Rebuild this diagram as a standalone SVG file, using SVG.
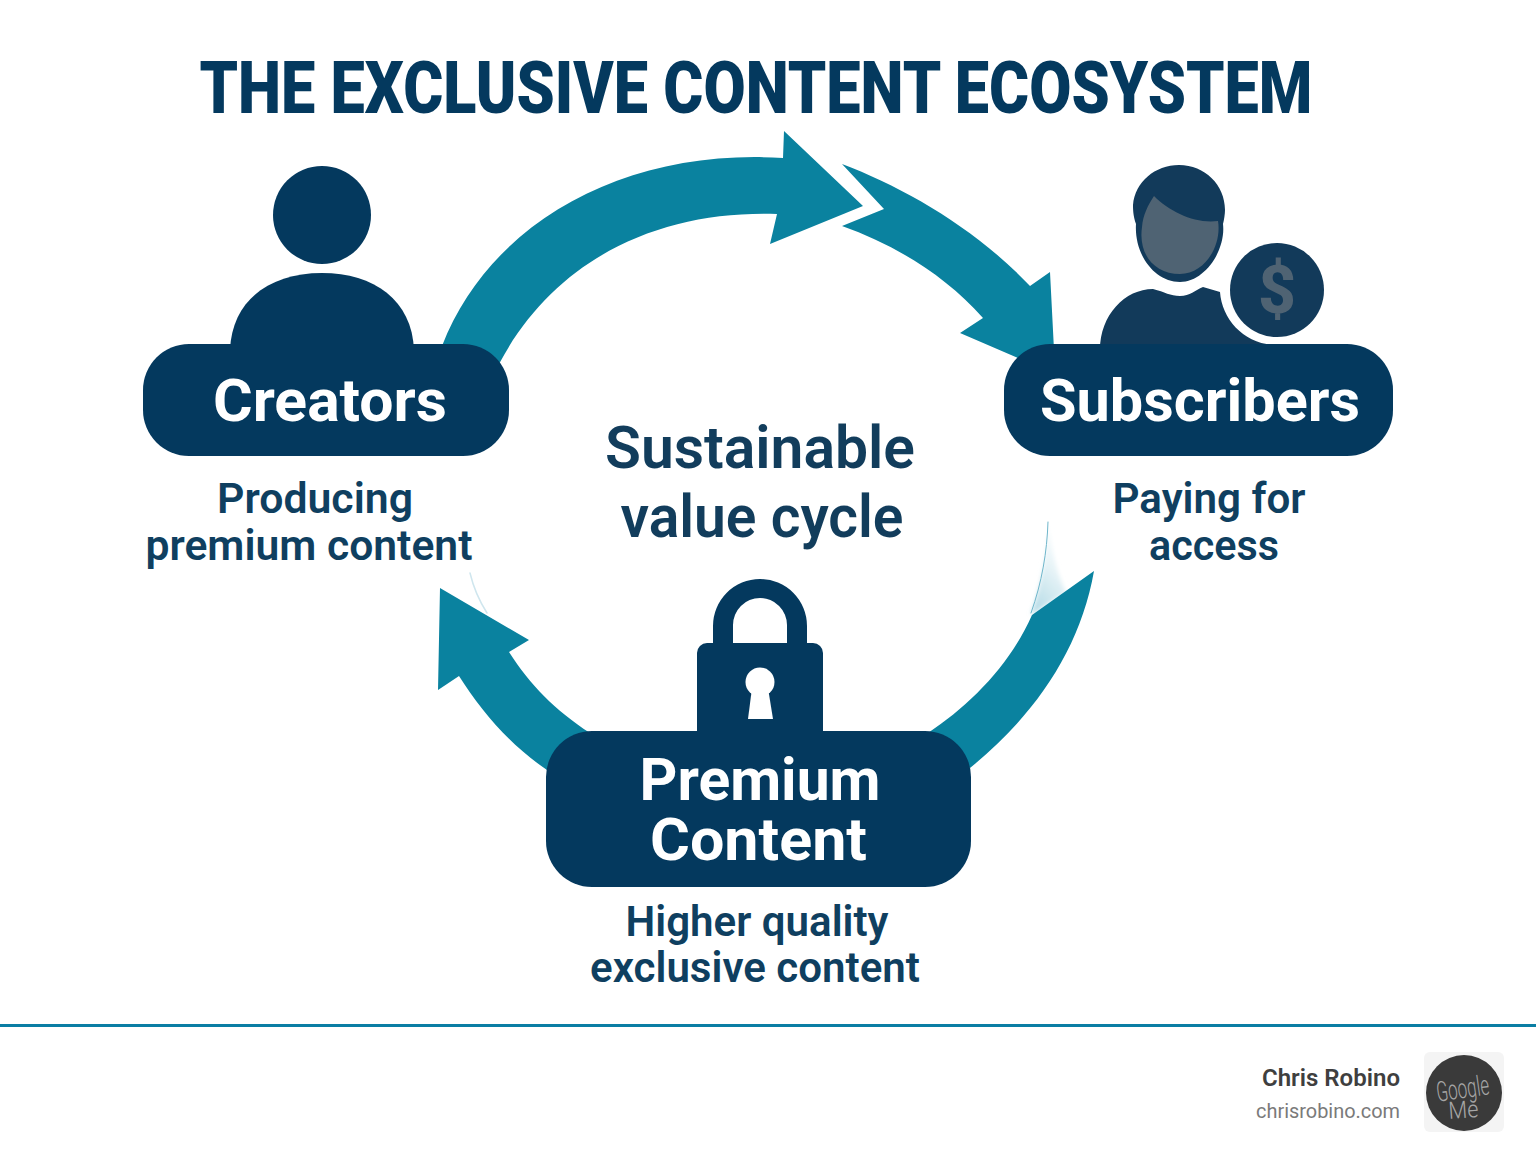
<svg xmlns="http://www.w3.org/2000/svg" width="1536" height="1154" viewBox="0 0 1536 1154">
<defs>
<linearGradient id="fade" x1="0.2" y1="1" x2="0.6" y2="0">
<stop offset="0" stop-color="#b5dbe6"/>
<stop offset="0.55" stop-color="#e6f3f7"/>
<stop offset="1" stop-color="#ffffff"/>
</linearGradient>
<filter id="soft" x="-30%" y="-30%" width="160%" height="160%"><feGaussianBlur stdDeviation="2"/></filter>
</defs>
<style>
.navy{fill:#04395e}
.teal{fill:#0a829f}
.ink{fill:#123a5a}
.sliver{fill:none;stroke-linecap:round}
text{font-family:Roboto,"Liberation Sans",sans-serif;text-anchor:middle}
.h{font-weight:700;fill:#fff;font-size:60px}
.s{font-weight:600;fill:#0f3f60;font-size:43px}
.c{font-weight:600;fill:#123d5c;font-size:60px}
</style>
<rect width="1536" height="1154" fill="#fff"/>
<text id="title" x="756" y="113" font-size="73" font-weight="900" fill="#04395e" textLength="1113" lengthAdjust="spacingAndGlyphs">THE EXCLUSIVE CONTENT ECOSYSTEM</text>
<g id="connectors">
<path class="teal" d="M442 346C490 222 625 148 783 158L784 131L863 206L770 244L777 214C660 210 555 258 499 364Z"/>
<path class="teal" d="M842 164C905 188 975 228 1030 286L1050 272L1054 350L1018 358L960 333L983 318C945 275 895 245 842 226L884 209Z"/>
<path d="M1048 520C1047 552 1042 582 1031 615L1066 592C1056 570 1052 552 1048 520Z" fill="url(#fade)" filter="url(#soft)"/>
<path class="sliver" d="M1048 522C1047 552 1042 582 1031 613" stroke="#6fb6cb" stroke-width="1"/>
<path class="teal" d="M1094 571C1080 650 1035 715 970 768L928 733C970 705 1010 665 1032 615Z"/>
<path class="sliver" d="M470 573C474 590 480 602 487 613" stroke="#cfe6ee" stroke-width="1.5"/>
<path class="teal" d="M590 733L547 770C510 745 482 712 459 676L438 690L440 588L529 640L509 652C530 685 555 710 590 733Z"/>
</g>
<g id="creators">
<circle class="navy" cx="322" cy="215" r="49"/>
<path class="navy" d="M230 350C232 300 270 273 322 273C374 273 412 300 414 350Z"/>
<rect class="navy" x="143" y="344" width="366" height="112" rx="46"/>
<text class="h" x="330" y="421" textLength="234" lengthAdjust="spacingAndGlyphs">Creators</text>
<text class="s" x="315" y="513" textLength="196" lengthAdjust="spacingAndGlyphs">Producing</text>
<text class="s" x="309" y="560" textLength="327" lengthAdjust="spacingAndGlyphs">premium content</text>
</g>
<g id="subscribers">
<path class="ink" d="M1100 350C1100 315 1125 289 1153 289C1165 292 1170 296 1180 296C1190 296 1195 290 1203 287L1220 292C1222 320 1245 345 1277 345L1277 350Z"/>
<path class="ink" d="M1179 165C1205 165 1225 185 1225 210C1225 214 1224 220 1223 224C1226 250 1205 282 1180 282C1155 282 1134 255 1136 224C1133 216 1133 208 1133 205C1135 182 1155 165 1179 165Z"/>
<path d="M1154 196C1170 212 1195 224 1218 221C1222 245 1205 274 1180 274C1155 274 1138 255 1142 227C1143 215 1148 205 1154 196Z" fill="#4f6373"/>
<circle class="ink" cx="1277" cy="290" r="47"/>
<text x="1277" y="313" font-size="66" font-weight="800" fill="#4f6373">$</text>
<rect class="navy" x="1004" y="344" width="389" height="112" rx="46"/>
<text class="h" x="1200" y="421" textLength="320" lengthAdjust="spacingAndGlyphs">Subscribers</text>
<text class="s" x="1209" y="513" textLength="193" lengthAdjust="spacingAndGlyphs">Paying for</text>
<text class="s" x="1214" y="560" textLength="130" lengthAdjust="spacingAndGlyphs">access</text>
</g>
<g id="premium">
<path class="navy" d="M713 645V626A47 47 0 0 1 807 626V645H787V625A27 27 0 0 0 733 625V645Z"/>
<rect class="navy" x="697" y="643" width="126" height="100" rx="10"/>
<circle cx="760" cy="682" r="14.5" fill="#fff"/>
<path d="M752 688H768L773 719H748Z" fill="#fff"/>
<rect class="navy" x="546" y="731" width="425" height="156" rx="46"/>
<text class="h"><tspan x="760" y="800" textLength="241" lengthAdjust="spacingAndGlyphs">Premium</tspan><tspan x="758.5" y="860" textLength="217" lengthAdjust="spacingAndGlyphs">Content</tspan></text>
<text class="s" x="757" y="936" textLength="263" lengthAdjust="spacingAndGlyphs">Higher quality</text>
<text class="s" x="755" y="982" textLength="330" lengthAdjust="spacingAndGlyphs">exclusive content</text>
</g>
<g id="center">
<text class="c" x="760" y="468" textLength="310" lengthAdjust="spacingAndGlyphs">Sustainable</text>
<text class="c" x="762" y="537" textLength="283" lengthAdjust="spacingAndGlyphs">value cycle</text>
</g>
<g id="footer">
<rect x="0" y="1024" width="1536" height="3" fill="#0a7ea4"/>
<text x="1331" y="1086" font-size="23" font-weight="600" fill="#3f3f3f" textLength="138" lengthAdjust="spacingAndGlyphs">Chris Robino</text>
<text x="1328" y="1118" font-size="21" fill="#7a7a7a" textLength="144" lengthAdjust="spacingAndGlyphs">chrisrobino.com</text>
<rect x="1424" y="1052" width="80" height="80" rx="6" fill="#f4f4f4"/>
<circle cx="1464" cy="1093" r="38" fill="#3a3a3a"/>
<text x="1464" y="1098" font-size="28" font-weight="300" fill="#a6a6a6" transform="rotate(-8 1464 1098)" textLength="53" lengthAdjust="spacingAndGlyphs">Google</text>
<text x="1464" y="1118" font-size="24" font-weight="300" fill="#a6a6a6" transform="rotate(-4 1464 1118)" textLength="30" lengthAdjust="spacingAndGlyphs">Me</text>
</g>
</svg>
